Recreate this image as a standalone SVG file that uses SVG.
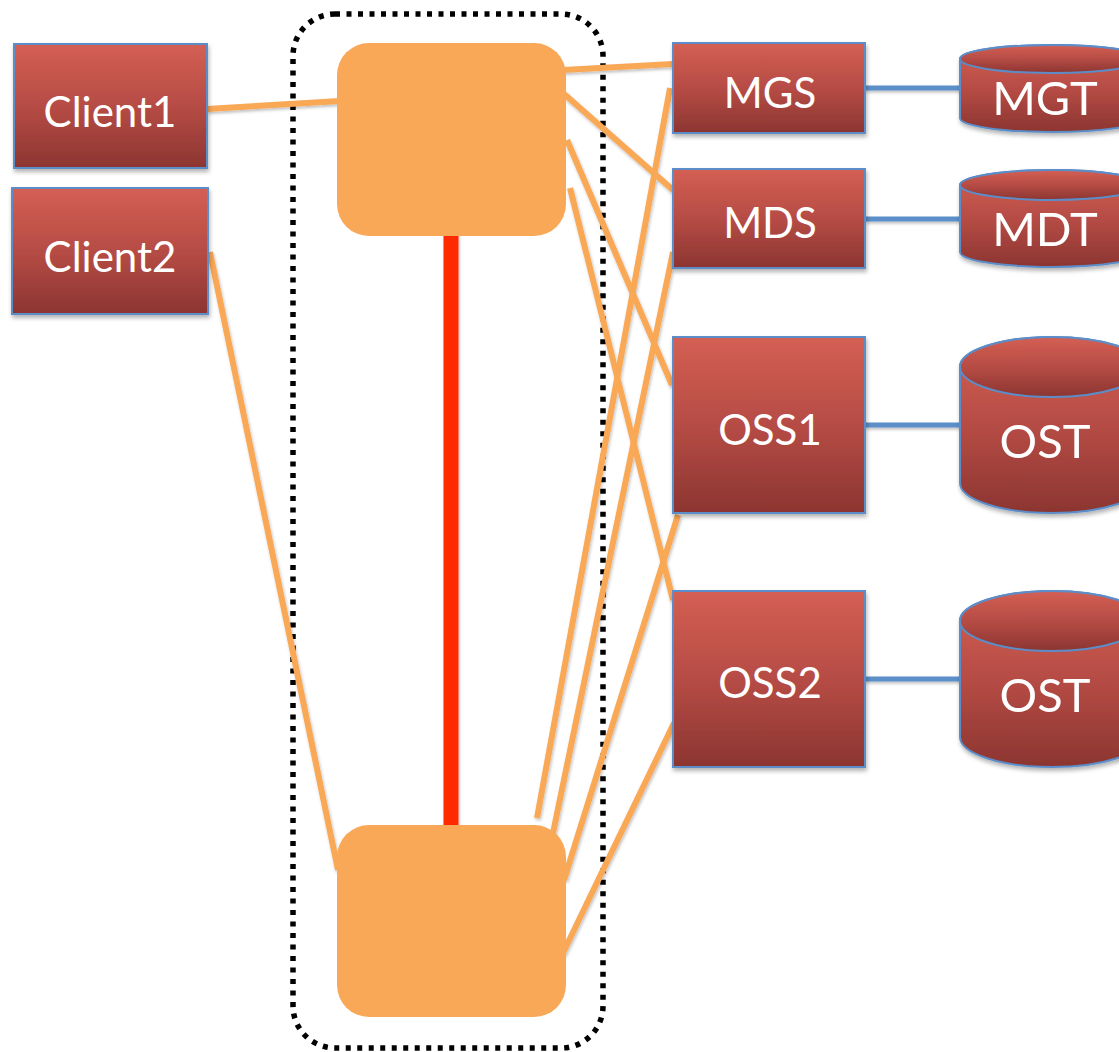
<svg xmlns="http://www.w3.org/2000/svg" width="1119" height="1052" viewBox="0 0 1119 1052">
<defs>
<linearGradient id="red" x1="0" y1="0" x2="0" y2="1">
<stop offset="0" stop-color="#d45f54"/>
<stop offset="0.5" stop-color="#b64c45"/>
<stop offset="1" stop-color="#8c3531"/>
</linearGradient>
<filter id="sh" x="-10%" y="-10%" width="130%" height="130%">
<feDropShadow dx="1" dy="3" stdDeviation="2" flood-color="#000" flood-opacity="0.3"/>
</filter>
<filter id="lsh" x="-10%" y="-10%" width="130%" height="130%">
<feDropShadow dx="1" dy="2" stdDeviation="1.5" flood-color="#000" flood-opacity="0.25"/>
</filter>
</defs>
<style>
.box{fill:url(#red);stroke:#5b8dc8;stroke-width:2;filter:url(#sh)}
.cyl{fill:url(#red);stroke:#5b8dc8;stroke-width:2}
.sw{fill:#f9a857}
.lbl{font-family:Lato,"Open Sans","Liberation Sans",sans-serif;fill:#fff;font-size:42px;text-anchor:middle}
.clbl{font-size:47px}
.or{stroke:#f9a857;stroke-width:6;fill:none}
.bl{stroke:#5b8fc9;stroke-width:5;fill:none}
</style>
<rect width="1119" height="1052" fill="#fff"/>
<g id="cluster">
<rect x="293" y="14" width="310" height="1034" rx="42" fill="none" stroke="#000" stroke-width="5.5" stroke-dasharray="5 6.5"/>
</g>
<g id="connectors" filter="url(#lsh)">
<line class="or" x1="207" y1="109" x2="340" y2="101"/>
<line class="or" x1="210" y1="252" x2="338" y2="870"/>
<line class="or" x1="563" y1="70" x2="673" y2="64"/>
<line class="or" x1="563" y1="93" x2="673" y2="190"/>
<line class="or" x1="567" y1="140" x2="672" y2="385"/>
<line class="or" x1="570" y1="188" x2="673" y2="600"/>
<line class="or" x1="670" y1="88" x2="537" y2="818"/>
<line class="or" x1="673" y1="252" x2="553" y2="833"/>
<line class="or" x1="678" y1="515" x2="564" y2="880"/>
<line class="or" x1="674" y1="723" x2="562" y2="955"/>
<line x1="451" y1="230" x2="451" y2="830" stroke="#ff2a00" stroke-width="15"/>
<line class="bl" x1="865" y1="88" x2="962" y2="88"/>
<line class="bl" x1="865" y1="219" x2="962" y2="219"/>
<line class="bl" x1="865" y1="425" x2="962" y2="425"/>
<line class="bl" x1="865" y1="679" x2="962" y2="679"/>
</g>
<g id="switch-top"><rect class="sw" x="337" y="43" width="229" height="193" rx="32"/></g>
<g id="switch-bottom"><rect class="sw" x="337" y="825" width="229" height="192" rx="32"/></g>
<g id="client1"><rect class="box" x="14" y="44" width="193" height="124"/><text class="lbl" x="110" y="127">Client1</text></g>
<g id="client2"><rect class="box" x="12" y="188" width="196" height="126"/><text class="lbl" x="110" y="272">Client2</text></g>
<g id="mgs"><rect class="box" x="673" y="43" width="192" height="90"/><text class="lbl" x="770" y="108">MGS</text></g>
<g id="mds"><rect class="box" x="673" y="169" width="192" height="99"/><text class="lbl" x="770" y="238">MDS</text></g>
<g id="oss1"><rect class="box" x="673" y="337" width="192" height="176"/><text class="lbl" x="770" y="445">OSS1</text></g>
<g id="oss2"><rect class="box" x="673" y="591" width="192" height="176"/><text class="lbl" x="770" y="698">OSS2</text></g>
<g id="mgt" filter="url(#sh)">
<path class="cyl" d="M960,59 V118 A92,14 0 0 0 1144,118 V59 A92,14 0 0 0 960,59 Z"/>
<ellipse class="cyl" cx="1052" cy="59" rx="92" ry="14"/>
<text class="lbl clbl" x="1045" y="115">MGT</text>
</g>
<g id="mdt" filter="url(#sh)">
<path class="cyl" d="M960,185 V252 A92,15 0 0 0 1144,252 V185 A92,15 0 0 0 960,185 Z"/>
<ellipse class="cyl" cx="1052" cy="185" rx="92" ry="15"/>
<text class="lbl clbl" x="1045" y="246">MDT</text>
</g>
<g id="ost1" filter="url(#sh)">
<path class="cyl" d="M960,367 V483 A92,30 0 0 0 1144,483 V367 A92,30 0 0 0 960,367 Z"/>
<ellipse class="cyl" cx="1052" cy="367" rx="92" ry="30"/>
<text class="lbl clbl" x="1045" y="458">OST</text>
</g>
<g id="ost2" filter="url(#sh)">
<path class="cyl" d="M960,621 V737 A92,30 0 0 0 1144,737 V621 A92,30 0 0 0 960,621 Z"/>
<ellipse class="cyl" cx="1052" cy="621" rx="92" ry="30"/>
<text class="lbl clbl" x="1045" y="712">OST</text>
</g>
</svg>
